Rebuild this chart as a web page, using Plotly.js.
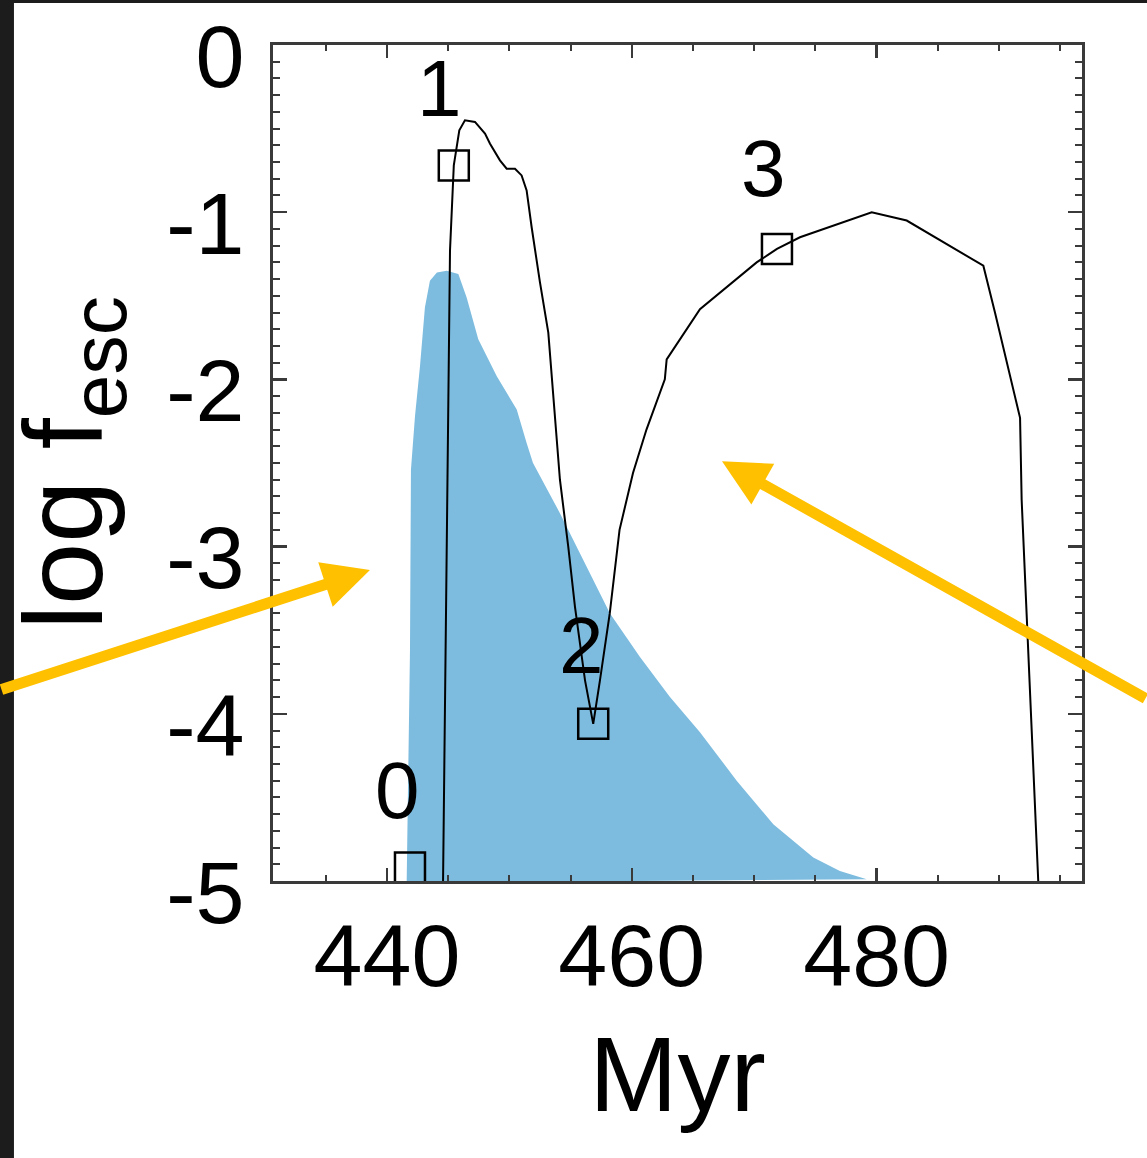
<!DOCTYPE html>
<html>
<head>
<meta charset="utf-8">
<script src="https://cdn.plot.ly/plotly-3.0.1.min.js"></script>
<style>
html,body{margin:0;padding:0;background:#1c1c1c;}
#chart{width:1147px;height:1158px;}
</style>
</head>
<body>
<div id="chart"></div>
<script>
// Escape-fraction curve (black line), Myr vs log f_esc
const lineX = [444.40, 444.58, 445.15, 445.46, 445.91, 446.37, 447.19, 448.01, 448.42, 449.23, 449.78, 450.46, 451.00, 451.41, 451.82, 452.50, 453.18, 453.86, 454.13, 454.81, 455.36, 456.18, 456.85, 457.40, 458.20, 459.00, 460.10, 461.20, 462.70, 462.85, 465.57, 470.20, 471.86, 473.74, 479.60, 482.46, 488.72, 489.67, 491.72, 491.85, 493.21, 493.80];
const lineY = [-6.00, -5.01, -1.23, -0.72, -0.51, -0.45, -0.46, -0.53, -0.59, -0.69, -0.74, -0.74, -0.78, -0.87, -1.09, -1.42, -1.72, -2.32, -2.60, -3.00, -3.36, -3.80, -4.06, -3.80, -3.40, -2.90, -2.56, -2.30, -2.00, -1.88, -1.58, -1.30, -1.22, -1.15, -1.00, -1.05, -1.32, -1.60, -2.23, -2.72, -4.99, -6.00];

// Marked snapshots 0-3
const markX = [441.88, 445.46, 456.85, 471.86];
const markY = [-4.92, -0.72, -4.06, -1.22];
const markLabels = ["0", "1", "2", "3"];
const labelX = [440.90, 444.33, 455.93, 470.72];
const labelY = [-4.46, -0.26, -3.59, -0.74];

// Blue filled distribution (upper boundary)
const blueX = [441.61, 441.88, 441.96, 442.29, 442.70, 443.10, 443.51, 444.08, 444.88, 445.83, 446.51, 447.46, 448.96, 450.60, 451.41, 451.93, 454.13, 456.32, 458.22, 460.67, 463.12, 465.57, 468.57, 471.56, 474.83, 477.00, 479.19];
const blueY = [-5.01, -3.62, -2.54, -2.22, -1.92, -1.57, -1.41, -1.36, -1.35, -1.37, -1.51, -1.76, -1.98, -2.18, -2.38, -2.50, -2.80, -3.12, -3.40, -3.66, -3.90, -4.11, -4.40, -4.66, -4.86, -4.94, -4.99];

// Axis ticks
const xTickVals = [440, 460, 480];
const xTickText = ["440", "460", "480"];
const yTickVals = [-5, -4, -3, -2, -1, 0];
const yTickText = ["-5", "-4", "-3", "-2", "-1", "0"];

// Overlay arrows (head position in data units)
const arrowHeadX = [438.61, 467.37];
const arrowHeadY = [-3.14, -2.49];

const FONT = "Liberation Sans, Arial, Helvetica, sans-serif";
const AX = '#3a3a3a';
const ARROW = '#FFC000';

const traces = [
  {
    x: blueX, y: blueY, type: 'scatter', mode: 'lines',
    fill: 'toself', fillcolor: 'rgb(125,188,223)',
    line: {width: 0, color: 'rgb(125,188,223)'},
    hoverinfo: 'skip', showlegend: false
  },
  {
    x: lineX, y: lineY, type: 'scatter', mode: 'lines',
    line: {color: '#000', width: 2},
    showlegend: false
  },
  {
    x: markX, y: markY, type: 'scatter', mode: 'markers',
    marker: {symbol: 'square-open', size: 30, color: '#000', line: {width: 2.5, color: '#000'}},
    showlegend: false
  }
];

const annotations = [];
markLabels.forEach((t, i) => {
  annotations.push({
    x: labelX[i], y: labelY[i], xref: 'x', yref: 'y',
    text: t, showarrow: false,
    font: {family: FONT, size: 80, color: '#000'},
    xanchor: 'center', yanchor: 'middle'
  });
});
const arrowTail = [[-372, 120], [425, 238]];
arrowHeadX.forEach((hx, i) => {
  annotations.push({
    x: hx, y: arrowHeadY[i], xref: 'x', yref: 'y',
    ax: arrowTail[i][0], ay: arrowTail[i][1],
    text: '', showarrow: true,
    arrowhead: 2, arrowsize: 0.85, arrowwidth: 11, arrowcolor: ARROW,
    standoff: 0
  });
});

const layout = {
  width: 1147, height: 1158,
  margin: {l: 273, r: 65, t: 45, b: 277},
  paper_bgcolor: '#1c1c1c',
  plot_bgcolor: 'rgba(0,0,0,0)',
  showlegend: false,
  shapes: [{
    type: 'rect', xref: 'paper', yref: 'paper',
    x0: -0.3202, x1: 1.2, y0: -0.5, y1: 1.0502,
    fillcolor: '#ffffff', line: {width: 0}, layer: 'below'
  }],
  xaxis: {
    range: [430.69, 496.78],
    tickmode: 'array', tickvals: xTickVals, ticktext: xTickText,
    ticks: 'inside', ticklen: 13, tickwidth: 2.5, tickcolor: AX,
    minor: {dtick: 5, tick0: 0, ticks: 'inside', ticklen: 6, tickwidth: 2, tickcolor: AX},
    showline: true, linecolor: AX, linewidth: 3, mirror: 'ticks',
    showgrid: false, zeroline: false,
    tickfont: {family: FONT, size: 88, color: '#000'},
    ticklabelstandoff: -4, ticklabeloverflow: 'allow',
    title: {text: 'Myr', font: {family: FONT, size: 106, color: '#000'}, standoff: 34}
  },
  yaxis: {
    range: [-5, 0],
    tickmode: 'array', tickvals: yTickVals, ticktext: yTickText,
    ticks: 'inside', ticklen: 14, tickwidth: 2.5, tickcolor: AX,
    minor: {dtick: 0.1, tick0: 0, ticks: 'inside', ticklen: 7, tickwidth: 2, tickcolor: AX},
    showline: true, linecolor: AX, linewidth: 3, mirror: 'ticks',
    showgrid: false, zeroline: false,
    tickfont: {family: FONT, size: 88, color: '#000'},
    ticklabelstandoff: 8, ticklabelshift: 11, ticklabeloverflow: 'allow',
    title: {text: 'log f<sub>esc</sub>', font: {family: FONT, size: 112, color: '#000'}, standoff: 26}
  },
  annotations: annotations
};

Plotly.newPlot('chart', traces, layout, {displayModeBar: false, staticPlot: true});
</script>
</body>
</html>
